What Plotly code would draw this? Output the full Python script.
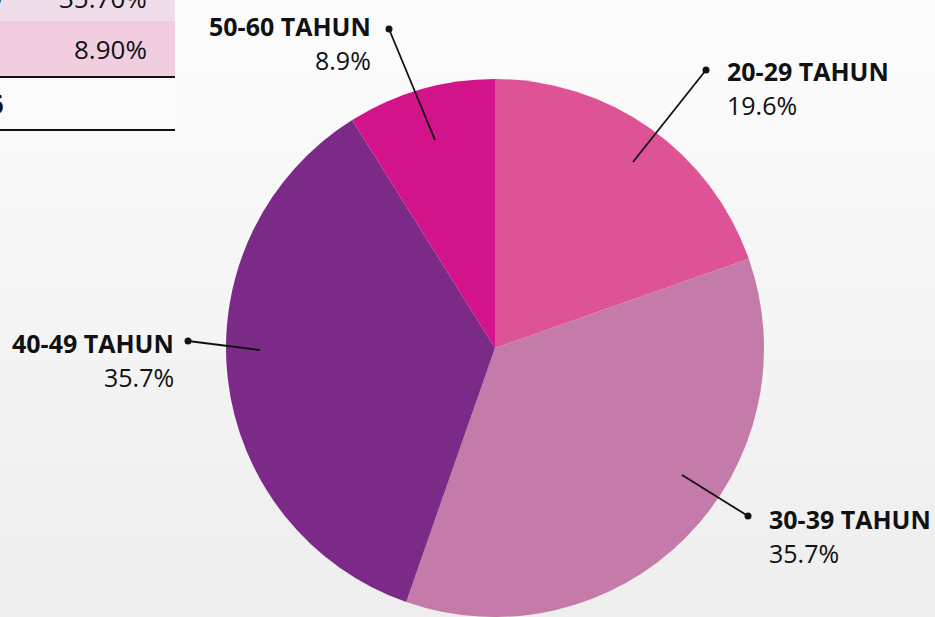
import plotly.graph_objects as go

# ---------------- data ----------------
categories = ["20-29 TAHUN", "30-39 TAHUN", "40-49 TAHUN", "50-60 TAHUN"]
values = [19.6, 35.7, 35.7, 8.9]
slice_colors = ["#de5396", "#c57ba9", "#7b2a88", "#d31389"]

table_values = ["35.70%", "8.90%"]

# ---------------- layout constants ----------------
W, H = 935, 617
# label layout (pixel coords): inner end of leader line, dot, text anchor side
label_layout = {
    "20-29 TAHUN": dict(inner=(633, 162), dot=(706, 70), tx=725, ty=71, side="left"),
    "30-39 TAHUN": dict(inner=(682, 475), dot=(748, 516), tx=767, ty=519, side="left"),
    "40-49 TAHUN": dict(inner=(260, 350), dot=(188, 341), tx=176, ty=343, side="right"),
    "50-60 TAHUN": dict(inner=(435, 140), dot=(389, 29), tx=373, ty=26, side="right"),
}

FONT = "Open Sans, Noto Sans, sans-serif"

fig = go.Figure()

fig.add_trace(go.Pie(
    labels=categories,
    values=values,
    sort=False,
    direction="clockwise",
    rotation=0,
    marker=dict(colors=slice_colors, line=dict(width=0)),
    textinfo="none",
    hoverinfo="label+percent",
    showlegend=False,
    domain=dict(x=[(495 - 269) / W, (495 + 269) / W], y=[0, 538 / H]),
))

# invisible trace to anchor the pixel-space axes
fig.add_trace(go.Scatter(x=[0, W], y=[0, H], mode="markers", marker=dict(opacity=0),
                         hoverinfo="skip", showlegend=False))

shapes = []
# soft background gradient
n_bands = 24
for i in range(n_bands):
    t = i / (n_bands - 1)
    c = int(round(252 - 14 * t))
    shapes.append(dict(type="rect", xref="paper", yref="paper",
                       x0=0, x1=1, y0=1 - (i + 1) / n_bands, y1=1 - i / n_bands,
                       fillcolor=f"rgb({c},{c},{c})", line=dict(width=0), layer="below"))

# partial table at top-left
shapes += [
    dict(type="rect", xref="x", yref="y", x0=0, x1=175, y0=-10, y1=21,
         fillcolor="#efdde9", line=dict(width=0), layer="below"),
    dict(type="rect", xref="x", yref="y", x0=0, x1=175, y0=21, y1=76,
         fillcolor="#f1cde0", line=dict(width=0), layer="below"),
    dict(type="rect", xref="x", yref="y", x0=0, x1=175, y0=78, y1=130,
         fillcolor="#fbfbfb", line=dict(width=0), layer="below"),
    dict(type="line", xref="x", yref="y", x0=0, x1=175, y0=77, y1=77,
         line=dict(color="#111111", width=2)),
    dict(type="line", xref="x", yref="y", x0=0, x1=175, y0=130, y1=130,
         line=dict(color="#111111", width=2)),
]

annotations = [
    dict(x=149, y=0, xref="x", yref="y", text=table_values[0], showarrow=False, yshift=2,
         xanchor="right", yanchor="middle", font=dict(family=FONT, size=26, color="#111111")),
    dict(x=149, y=49, xref="x", yref="y", text=table_values[1], showarrow=False,
         xanchor="right", yanchor="middle", font=dict(family=FONT, size=26, color="#111111")),
    dict(x=4, y=0, xref="x", yref="y", text="<b>40-49</b>", showarrow=False, yshift=2,
         xanchor="right", yanchor="middle", font=dict(family=FONT, size=26, color="#111111")),
    dict(x=6, y=104, xref="x", yref="y", text="<b>56</b>", showarrow=False,
         xanchor="right", yanchor="middle", font=dict(family=FONT, size=26, color="#111111")),
]

for cat, val in zip(categories, values):
    L = label_layout[cat]
    (x0, y0), (x1, y1) = L["inner"], L["dot"]
    shapes.append(dict(type="line", xref="x", yref="y", x0=x0, y0=y0, x1=x1, y1=y1,
                       line=dict(color="#111111", width=1.8), layer="above"))
    shapes.append(dict(type="circle", xref="x", yref="y",
                       x0=x1 - 3.5, x1=x1 + 3.5, y0=y1 - 3.5, y1=y1 + 3.5,
                       fillcolor="#111111", line=dict(width=0), layer="above"))
    annotations.append(dict(
        x=L["tx"], y=L["ty"], xref="x", yref="y", text=f"<b>{cat}</b>", showarrow=False,
        xanchor=L["side"], yanchor="middle", font=dict(family=FONT, size=25, color="#111111")))
    annotations.append(dict(
        x=L["tx"], y=L["ty"] + 34, xref="x", yref="y", text=f"{val}%", showarrow=False,
        xanchor=L["side"], yanchor="middle", font=dict(family=FONT, size=25, color="#111111")))

fig.update_layout(
    width=W, height=H,
    margin=dict(l=0, r=0, t=0, b=0),
    paper_bgcolor="#f6f6f6",
    plot_bgcolor="rgba(0,0,0,0)",
    xaxis=dict(range=[0, W], visible=False, fixedrange=True),
    yaxis=dict(range=[H, 0], visible=False, fixedrange=True),
    shapes=shapes,
    annotations=annotations,
    font=dict(family=FONT),
)

fig.write_html(
    "out.html",
    config={"displayModeBar": False},
    post_script="document.body.style.margin='0';document.body.style.overflow='hidden';",
)
